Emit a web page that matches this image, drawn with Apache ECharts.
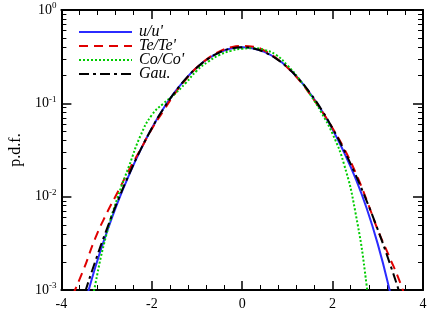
<!DOCTYPE html>
<html>
<head>
<meta charset="utf-8">
<script src="https://cdn.jsdelivr.net/npm/echarts@6/dist/echarts.min.js"></script>
<style>
html, body { margin: 0; padding: 0; background: #fff; }
#chart { width: 436px; height: 327px; }
</style>
</head>
<body>
<div id="chart"></div>
<script>
// x positions and p.d.f. values
var xU = [-3.5, -3.25, -3, -2.75, -2.5, -2.25, -2, -1.75, -1.5, -1.25, -1, -0.75, -0.5, -0.25, 0,
	0.25, 0.5, 0.75, 1, 1.25, 1.5, 1.75, 2, 2.25, 2.5, 2.75, 3, 3.25, 3.5];
var pU = [0.00065, 0.00175, 0.0041, 0.0088, 0.0172, 0.0315, 0.054, 0.087, 0.130, 0.183, 0.243, 0.302, 0.352, 0.386, 0.398,
	0.387, 0.354, 0.304, 0.244, 0.183, 0.128, 0.085, 0.0525, 0.030, 0.016, 0.0076, 0.0031, 0.00105, 0.0003];

var xTe = [-3.75, -3.5, -3.25, -3, -2.75, -2.5, -2.25, -2, -1.75, -1.5, -1.25, -1, -0.75, -0.5, -0.25, 0,
	0.25, 0.5, 0.75, 1, 1.25, 1.5, 1.75, 2, 2.25, 2.5, 2.75, 3, 3.25, 3.5, 3.75];
var pTe = [0.00088, 0.0017, 0.0036, 0.0066, 0.0113, 0.0195, 0.032, 0.053, 0.082, 0.125, 0.180, 0.243, 0.305, 0.360, 0.398, 0.412,
	0.405, 0.365, 0.305, 0.242, 0.180, 0.125, 0.084, 0.054, 0.033, 0.0185, 0.0093, 0.0044, 0.0023, 0.00118, 0.0005];

var xCo = [-3.5, -3.25, -3, -2.75, -2.5, -2.25, -2, -1.75, -1.5, -1.25, -1, -0.75, -0.5, -0.25, 0,
	0.25, 0.5, 0.75, 1, 1.25, 1.5, 1.75, 2, 2.25, 2.5, 2.75, 2.9];
var pCo = [0.00025, 0.00115, 0.0040, 0.0100, 0.0215, 0.045, 0.075, 0.099, 0.125, 0.165, 0.225, 0.280, 0.330, 0.365, 0.385,
	0.389, 0.372, 0.330, 0.255, 0.185, 0.125, 0.080, 0.047, 0.0225, 0.0070, 0.00115, 0.0002];

var xGau = [-3.75, -3.5, -3.25, -3, -2.75, -2.5, -2.25, -2, -1.75, -1.5, -1.25, -1, -0.75, -0.5, -0.25, 0,
	0.25, 0.5, 0.75, 1, 1.25, 1.5, 1.75, 2, 2.25, 2.5, 2.75, 3, 3.25, 3.5, 3.75];
var pGau = [0.000353, 0.000873, 0.00203, 0.00443, 0.00909, 0.0175, 0.0317, 0.0540, 0.0863, 0.1295, 0.1826, 0.2420, 0.3011, 0.3521, 0.3867, 0.3989,
	0.3867, 0.3521, 0.3011, 0.2420, 0.1826, 0.1295, 0.0863, 0.0540, 0.0317, 0.0175, 0.00909, 0.00443, 0.00203, 0.000873, 0.000353];

var seriesNames = ["u/u'", "Te/Te'", "Co/Co'", 'Gau.'];
var xTicks = [-4, -2, 0, 2, 4];
var yExps = ['0', '-1', '-2', '-3'];
var yMinor = [0.002, 0.003, 0.004, 0.005, 0.006, 0.007, 0.008, 0.009,
	0.02, 0.03, 0.04, 0.05, 0.06, 0.07, 0.08, 0.09,
	0.2, 0.3, 0.4, 0.5, 0.6, 0.7, 0.8, 0.9];

function pairs(xs, ps) {
	var out = [];
	for (var i = 0; i < xs.length; i++) {
		out.push([xs[i], ps[i]]);
	}
	return out;
}

var serif = 'Liberation Serif';

function xAxisDef(pos, showLabel) {
	return {
		type: 'value',
		position: pos,
		min: xTicks[0],
		max: xTicks[xTicks.length - 1],
		interval: 2,
		axisLine: { show: true, onZero: false, lineStyle: { color: '#000', width: 2 } },
		axisTick: { show: true, inside: true, length: 9, lineStyle: { color: '#000', width: 1.5 } },
		minorTick: { show: true, splitNumber: 5, length: 5, lineStyle: { color: '#000', width: 1 } },
		axisLabel: {
			show: showLabel, color: '#000', fontFamily: serif, fontSize: 14, margin: 7,
			formatter: function(v) { return String(v); }
		},
		splitLine: { show: false }
	};
}

function yAxisDef(pos, major) {
	var ax = {
		type: 'log',
		logBase: 10,
		position: pos,
		min: 0.001,
		max: 1,
		axisLine: { show: major, onZero: false, lineStyle: { color: '#000', width: 2 } },
		axisTick: { show: true, inside: true, length: major ? 10 : 5, lineStyle: { color: '#000', width: major ? 1.5 : 1 } },
		axisLabel: { show: false },
		splitLine: { show: false }
	};
	if (!major) {
		ax.axisTick.customValues = yMinor;
	}
	if (major && pos == 'left') {
		ax.axisLabel = {
			show: true, color: '#000', margin: 5,
			formatter: function(v) {
				var e = yExps[Math.round(-Math.log10(v))];
				return '{b|10}{s|' + e + '}';
			},
			rich: {
				b: { fontFamily: serif, fontSize: 14, color: '#000' },
				s: { fontFamily: serif, fontSize: 9, color: '#000', verticalAlign: 'top', padding: [0, 0, 8, 0] }
			}
		};
		ax.name = 'p.d.f.';
		ax.nameLocation = 'middle';
		ax.nameGap = 22;
		ax.nameTextStyle = { fontFamily: serif, fontSize: 16, color: '#000' };
	}
	return ax;
}

var chart = echarts.init(document.getElementById('chart'));
var option = {
	animation: false,
	backgroundColor: '#fff',
	grid: { left: 57, right: 13, top: 10, bottom: 37 },
	legend: {
		orient: 'vertical',
		left: 73,
		top: 19,
		itemWidth: 53,
		itemHeight: 10,
		itemGap: -2,
		itemStyle: { opacity: 0 },
		data: seriesNames,
		textStyle: { fontFamily: serif, fontStyle: 'italic', fontSize: 16, color: '#000', padding: [0, 0, 0, 2] }
	},
	xAxis: [xAxisDef('bottom', true), xAxisDef('top', false)],
	yAxis: [yAxisDef('left', true), yAxisDef('left', false), yAxisDef('right', true), yAxisDef('right', false)],
	series: [
		{
			name: seriesNames[0], type: 'line', smooth: true, symbol: 'none',
			lineStyle: { color: '#2b2bff', width: 2, type: 'solid' },
			itemStyle: { color: '#2b2bff' },
			data: pairs(xU, pU)
		},
		{
			name: seriesNames[1], type: 'line', smooth: true, symbol: 'none',
			lineStyle: { color: '#e00000', width: 2, type: [9, 6] },
			itemStyle: { color: '#e00000' },
			data: pairs(xTe, pTe)
		},
		{
			name: seriesNames[2], type: 'line', smooth: true, symbol: 'none',
			lineStyle: { color: '#00cc00', width: 2, type: [2, 2] },
			itemStyle: { color: '#00cc00' },
			data: pairs(xCo, pCo)
		},
		{
			name: seriesNames[3], type: 'line', smooth: true, symbol: 'none',
			lineStyle: { color: '#000', width: 2, type: [10, 4, 3, 4] },
			itemStyle: { color: '#000' },
			data: pairs(xGau, pGau)
		}
	]
};
chart.setOption(option);
</script>
</body>
</html>
